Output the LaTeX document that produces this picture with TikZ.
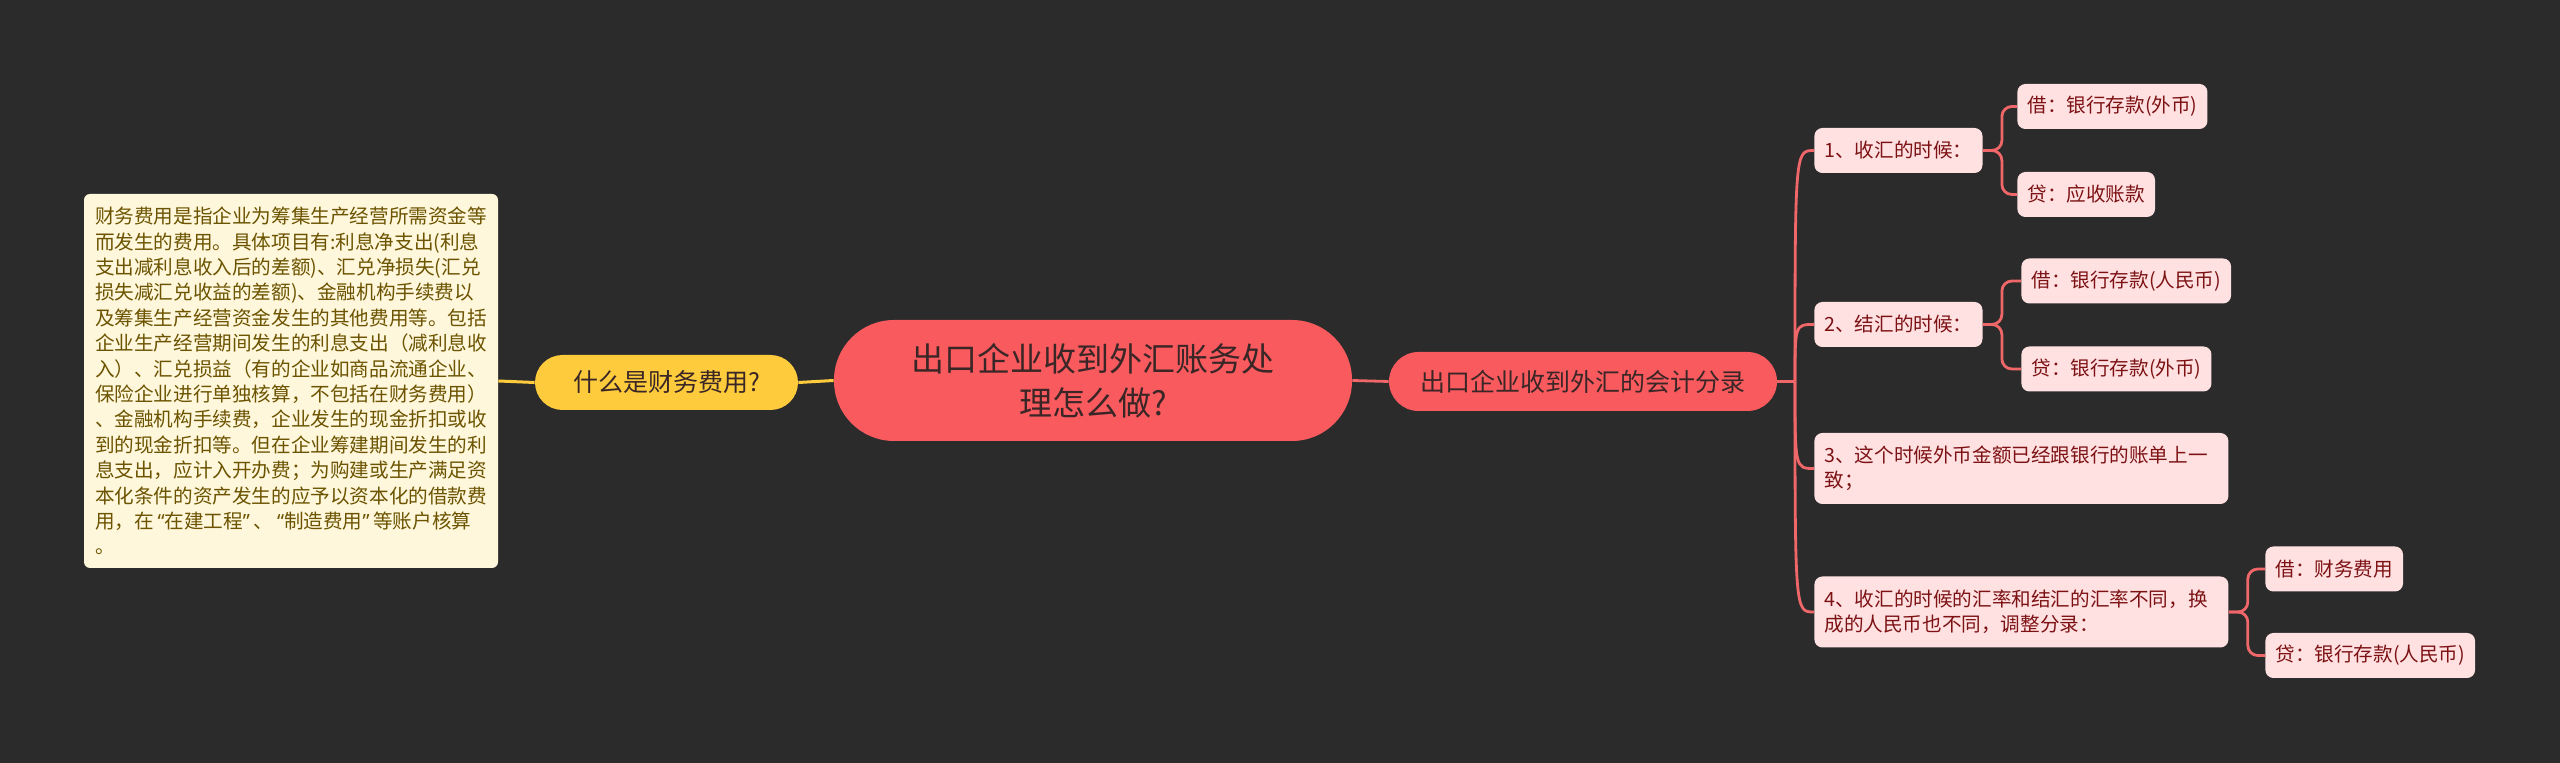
\documentclass[tikz,border=0pt]{standalone}
\usepackage{fontspec}
\setmainfont{Noto Sans CJK SC}
\newfontfamily\quotefont{Noto Sans}
\newcommand\openquote{\makebox[0.55em][r]{\quotefont “}}
\newcommand\closequote{\makebox[0.55em][l]{\quotefont ”}}
\definecolor{bgdark}{HTML}{2B2B2B}
\definecolor{rootred}{HTML}{F85A5E}
\definecolor{roottext}{HTML}{3A2626}
\definecolor{topicyellow}{HTML}{FDCB3C}
\definecolor{notecream}{HTML}{FFF7DB}
\definecolor{notetext}{HTML}{6B5300}
\definecolor{leafpink}{HTML}{FFE1E2}
\definecolor{leaftext}{HTML}{7D1214}
\definecolor{linkred}{HTML}{F0676A}
\tikzset{
  rootnode/.style={fill=rootred, text=roottext, rounded corners=30pt, minimum width=259pt,
    minimum height=60.5pt, align=center, font=\fontsize{16.5}{22}\selectfont},
  subnode/.style={fill=rootred, text=roottext, rounded corners=14.75pt, minimum width=194pt,
    minimum height=29.5pt, font=\fontsize{12.5}{15}\selectfont},
  topicnode/.style={fill=topicyellow, text=roottext, rounded corners=13.75pt, minimum width=131.5pt,
    minimum height=27.5pt, font=\fontsize{12.5}{15}\selectfont},
  notebox/.style={fill=notecream, text=notetext, rounded corners=3pt, text width=196pt,
    inner xsep=5.5pt, minimum height=187pt, align=left, font=\fontsize{9.8}{12.7}\selectfont},
  leafnode/.style={fill=leafpink, text=leaftext, rounded corners=4pt, anchor=west, inner xsep=5pt,
    minimum height=22.5pt, font=\fontsize{9.8}{12.6}\selectfont},
  wideleaf/.style={leafnode, text width=197pt, align=left, minimum height=35.5pt},
  yellowline/.style={draw=topicyellow, line width=1.5pt},
  redline/.style={draw=linkred, line width=1.4pt},
}
\begin{document}
\begin{tikzpicture}[x=0.5pt, y=-0.5pt]
  % Background
  \fill[bgdark] (0,0) rectangle (2560,763);
  \useasboundingbox (0,0) rectangle (2560,763);
  % Root and first level
  \node[rootnode] (root) at (1093,380.5) {出口企业收到外汇账务处\\理怎么做?};
  \node[topicnode] (what) at (666.5,382.5) {什么是财务费用?};
  \node[subnode] (entry) at (1583,381.5) {出口企业收到外汇的会计分录};
  % Note on the left
  \node[notebox] (note) at (291,381) {财务费用是指企业为筹集生产经营所需资金等\\
    而发生的费用。具体项目有:利息净支出(利息\\
    支出减利息收入后的差额)、汇兑净损失(汇兑\\
    损失减汇兑收益的差额)、金融机构手续费以\\
    及筹集生产经营资金发生的其他费用等。包括\\
    企业生产经营期间发生的利息支出（减利息收\\
    入）、汇兑损益（有的企业如商品流通企业、\\
    保险企业进行单独核算，不包括在财务费用）\\
    、金融机构手续费，企业发生的现金折扣或收\\
    到的现金折扣等。但在企业筹建期间发生的利\\
    息支出，应计入开办费；为购建或生产满足资\\
    本化条件的资产发生的应予以资本化的借款费\\
    用，在\openquote 在建工程\closequote 、\openquote 制造费用\closequote 等账户核算\\
    。};
  \draw[yellowline] (note.east) -- (what.west);
  \draw[yellowline] (what.east) -- (root.west);
  \draw[redline] (root.east) -- (entry.west);
  % Entry steps
  \node[leafnode] (stepa) at (1814,150.5) {1、收汇的时候：};
  \node[leafnode] (stepb) at (1814,324.5) {2、结汇的时候：};
  \node[wideleaf] (stepc) at (1814,468.5) {3、这个时候外币金额已经跟银行的账单上一\\致；};
  \node[wideleaf] (stepd) at (1814,612) {4、收汇的时候的汇率和结汇的汇率不同，换\\成的人民币也不同，调整分录：};
  % Debit and credit leaves
  \node[leafnode] (stepadr) at (2017,106.5) {借：银行存款(外币)};
  \node[leafnode] (stepacr) at (2017,194.5) {贷：应收账款};
  \node[leafnode] (stepbdr) at (2021,281) {借：银行存款(人民币)};
  \node[leafnode] (stepbcr) at (2021,369) {贷：银行存款(外币)};
  \node[leafnode] (stepddr) at (2265,569) {借：财务费用};
  \node[leafnode] (stepdcr) at (2265,655.5) {贷：银行存款(人民币)};
  % Trunk from the entry node
  \coordinate (fork) at (1795,381.5);
  \draw[redline] (entry.east) -- (fork);
  \foreach \step in {stepa, stepb, stepc, stepd}{
    \draw[redline] (fork) .. controls (fork |- \step.west) .. (\step.west);
  }
  % Branches to the leaves
  \foreach \step/\leaf in {stepa/stepadr, stepa/stepacr, stepb/stepbdr,
                           stepb/stepbcr, stepd/stepddr, stepd/stepdcr}{
    \draw[redline, rounded corners=5pt] (\step.east) -- ++(19,0) |- (\leaf.west);
  }
\end{tikzpicture}
\end{document}
